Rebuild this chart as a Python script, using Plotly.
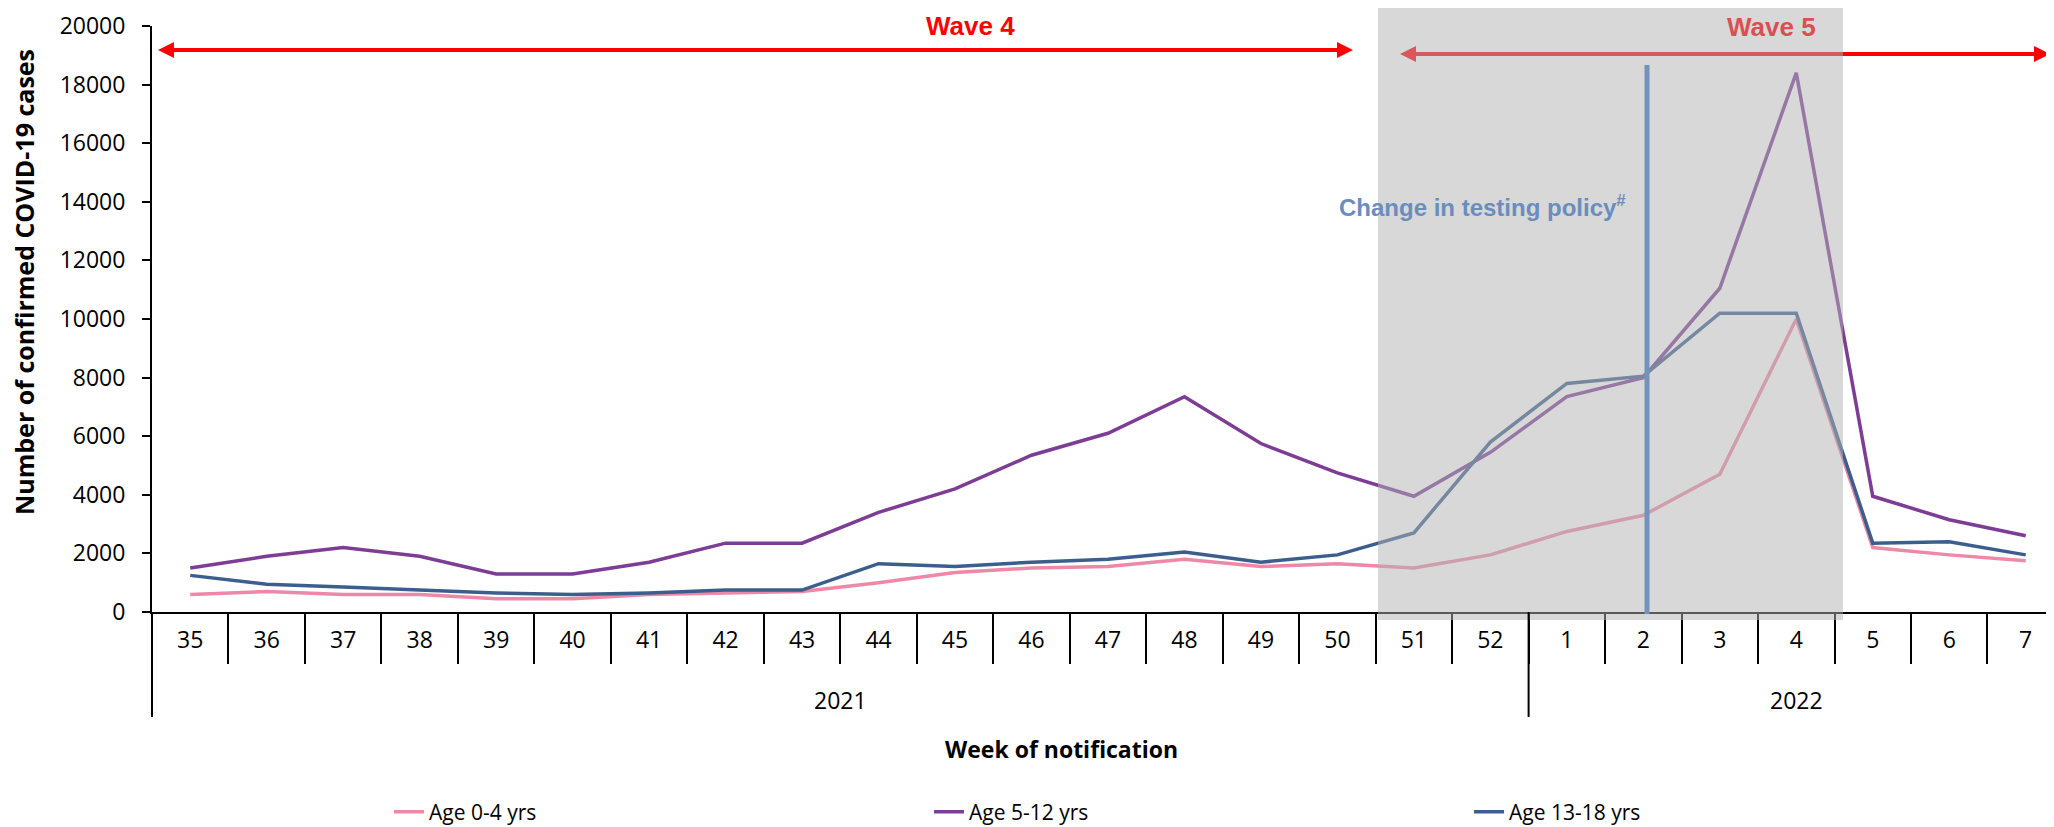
import plotly.graph_objects as go

# ---------------- data ----------------
weeks = ["35", "36", "37", "38", "39", "40", "41", "42", "43", "44", "45", "46",
         "47", "48", "49", "50", "51", "52", "1", "2", "3", "4", "5", "6", "7"]
years = ["2021"] * 18 + ["2022"] * 7

age_0_4 = [600, 700, 600, 600, 450, 450, 600, 650, 700, 1000, 1350, 1500,
           1550, 1800, 1550, 1650, 1500, 1950, 2750, 3300, 4700, 10000, 2200, 1950, 1750]
age_5_12 = [1500, 1900, 2200, 1900, 1300, 1300, 1700, 2350, 2350, 3400, 4200, 5350,
            6100, 7350, 5750, 4750, 3950, 5450, 7350, 8000, 11050, 18400, 3950, 3150, 2600]
age_13_18 = [1250, 950, 850, 750, 650, 600, 650, 750, 750, 1650, 1550, 1700,
             1800, 2050, 1700, 1950, 2700, 5800, 7800, 8050, 10200, 10200, 2350, 2400, 1950]

series_names = ["Age 0-4 yrs", "Age 5-12 yrs", "Age 13-18 yrs"]
series_colors = ["#ee88a7", "#7d3d95", "#3b5e8c"]

# ---------------- layout constants ----------------
OFF = 8                      # page body margin of the rendered html
W, H = 2054 - OFF, 827 - OFF
ML, MR, MT, MB = 152 - OFF, 0, 26 - OFF, 827 - 612
PW, PH = W - ML - MR, H - MT - MB
XR = [-0.5, 24.37]
FONT = "Open Sans, Liberation Sans, sans-serif"
NARROW = "Liberation Sans Narrow, Liberation Sans, sans-serif"


def px(x):  # screenshot pixel x -> paper x
    return (x - OFF - ML) / PW


def py(y):  # screenshot pixel y -> paper y
    return (H - MB - (y - OFF)) / PH


def ix(i):  # category index -> paper x
    return (i - XR[0]) / (XR[1] - XR[0])


fig = go.Figure()
for name, vals, col in zip(series_names, [age_0_4, age_5_12, age_13_18], series_colors):
    fig.add_trace(go.Scatter(x=weeks, y=vals, mode="lines", name=name,
                             line=dict(color=col, width=3.5)))

shapes = []


def arrow(x0, x1, y, color):
    hl, hw = 16, 8
    out = [dict(type="line", xref="paper", yref="paper", x0=px(x0 + hl - 2), x1=px(x1 - hl + 2),
                y0=py(y), y1=py(y), line=dict(color=color, width=4), layer="above")]
    out.append(dict(type="path", xref="paper", yref="paper", layer="above", fillcolor=color,
                    line=dict(width=0),
                    path=f"M {px(x0)} {py(y)} L {px(x0 + hl)} {py(y - hw)} L {px(x0 + hl)} {py(y + hw)} Z"))
    out.append(dict(type="path", xref="paper", yref="paper", layer="above", fillcolor=color,
                    line=dict(width=0),
                    path=f"M {px(x1)} {py(y)} L {px(x1 - hl)} {py(y - hw)} L {px(x1 - hl)} {py(y + hw)} Z"))
    return out


shapes += arrow(158, 1353, 50, "#ff0000")
shapes += arrow(1400, 2050, 54, "#ff0000")
shapes.append(dict(type="rect", xref="paper", yref="paper", x0=px(1378), x1=px(1843),
                   y0=py(620), y1=py(5), fillcolor="rgba(178,178,178,0.5)",
                   line=dict(width=0), layer="above"))
shapes.append(dict(type="line", xref="paper", yref="paper", x0=px(1647), x1=px(1647),
                   y0=py(614), y1=py(65), line=dict(color="#7393bb", width=5), layer="above"))

# year group dividers and labels (derived from the years list)
annotations = []
groups = []
for i, yv in enumerate(years):
    if not groups or groups[-1][0] != yv:
        groups.append([yv, i, i])
    else:
        groups[-1][2] = i
for yv, i0, i1 in groups:
    shapes.append(dict(type="line", xref="paper", yref="paper", x0=ix(i0 - 0.5), x1=ix(i0 - 0.5),
                       y0=py(612), y1=py(717), line=dict(color="#000000", width=2)))
    annotations.append(dict(text=yv, x=(i0 + i1) / 2, y=py(700), xref="x", yref="paper",
                            showarrow=False, xanchor="center", yanchor="middle",
                            font=dict(family=FONT, size=23, color="#000000")))


def ann(text, x, y, font, angle=0):
    return dict(text=text, x=px(x), y=py(y), xref="paper", yref="paper", showarrow=False,
                xanchor="center", yanchor="middle", textangle=angle, font=font)


annotations += [
    ann("<b>Wave 4</b>", 970, 26, dict(family=NARROW, size=26, color="#ff0000")),
    ann("<b>Wave 5</b>", 1771, 27, dict(family=NARROW, size=26, color="#d95050")),
    ann("<b>Change in testing policy<sup>#</sup></b>", 1482, 206,
        dict(family=NARROW, size=24, color="#6a8dbd")),
    ann("<b>Week of notification</b>", 1061, 749, dict(family=FONT, size=23, color="#000000")),
    ann("<b>Number of confirmed COVID-19 cases</b>", 24, 282,
        dict(family=FONT, size=25, color="#000000"), angle=-90),
]

fig.update_layout(
    width=W, height=H,
    margin=dict(l=ML, r=MR, t=MT, b=MB, pad=0, autoexpand=False),
    paper_bgcolor="white", plot_bgcolor="white",
    font=dict(family=FONT, size=23, color="#000000"),
    showlegend=True,
    legend=dict(orientation="h", xref="container", yref="container",
                x=(393 - OFF - 4) / W, y=1 - (812 - OFF) / H, xanchor="left", yanchor="middle",
                entrywidth=495, entrywidthmode="pixels", font=dict(size=21, family=FONT),
                bgcolor="rgba(0,0,0,0)"),
    shapes=shapes, annotations=annotations,
)
fig.update_xaxes(type="category", range=XR, showline=True, linewidth=2,
                 linecolor="#000000", ticks="outside", tickson="boundaries", ticklen=50,
                 tickwidth=2, tickcolor="#000000", tickfont=dict(size=23, family=FONT),
                 ticklabelstandoff=6, showgrid=False, zeroline=False, automargin=False)
fig.update_yaxes(range=[0, 20000], dtick=2000, tickformat="d", showline=True, linewidth=2,
                 linecolor="#000000", ticks="outside", ticklen=8, tickwidth=2,
                 tickcolor="#000000", tickfont=dict(size=23, family=FONT), ticklabelstandoff=12,
                 showgrid=False, zeroline=False, automargin=False)

fig.write_html("out.html")
